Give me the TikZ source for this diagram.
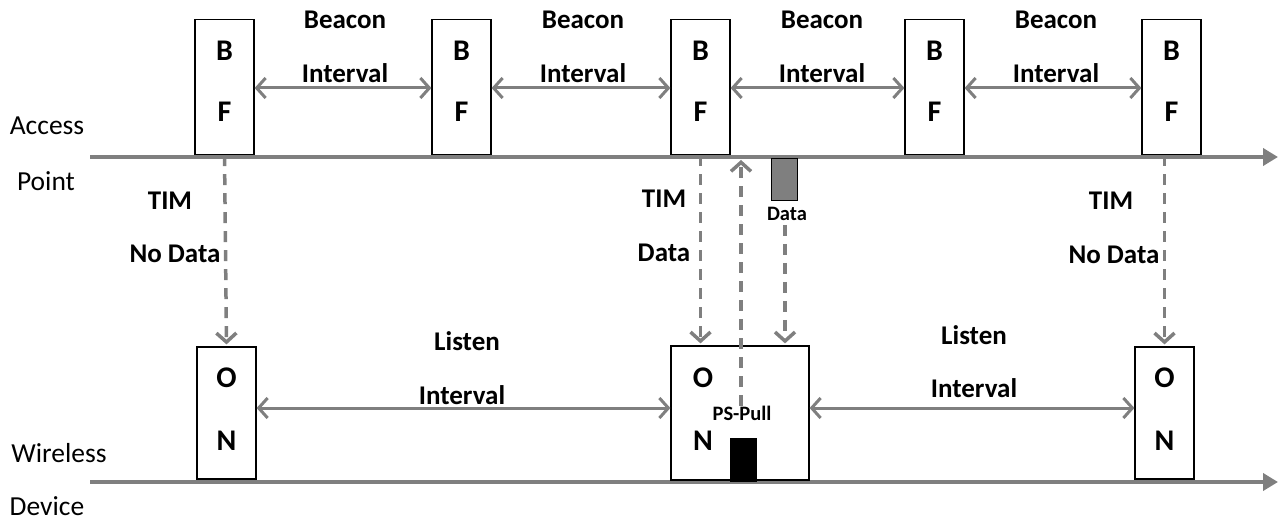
\documentclass[tikz,border=0pt]{standalone}
\usepackage{fontspec}
\setmainfont{Carlito}
\usetikzlibrary{arrows.meta}
\definecolor{ln}{HTML}{7F7F7F}
\tikzset{
  box/.style={draw=black,line width=1.2pt,fill=white,inner sep=0pt,minimum width=59pt,minimum height=135pt},
  lt/.style={font=\fontsize{30}{30}\selectfont\bfseries,inner sep=0pt},
  lbl/.style={font=\fontsize{27}{27}\selectfont\bfseries,inner sep=0pt},
  side/.style={font=\fontsize{27.5}{27.5}\selectfont,inner sep=0pt},
  small/.style={font=\fontsize{20.5}{20.5}\selectfont\bfseries,inner sep=0pt},
  axis/.style={draw=ln,line width=4pt,-{Triangle[length=15pt,width=17pt]}},
  dbl/.style={draw=ln,line width=3pt,{Straight Barb[length=9pt,width=20pt]}-{Straight Barb[length=9pt,width=20pt]}},
  dsh/.style={draw=ln,line width=3.5pt,dash pattern=on 11pt off 8pt,-{Straight Barb[length=9pt,width=20pt]}}
}
\begin{document}
\begin{tikzpicture}[x=1pt,y=-1pt]
\useasboundingbox (0,0) rectangle (1281,521);
% axes
\coordinate (apL) at (90,157);
\coordinate (apR) at (1278,157);
\coordinate (wdL) at (90,482);
\coordinate (wdR) at (1278,482);
\draw[axis] (apL) -- (apR);
\draw[axis] (wdL) -- (wdR);
% side labels
\node[side] (acc) at (47,126) {Access};
\node[side] (pt) at (46,181) {Point};
\node[side] (wl) at (59,453) {Wireless};
\node[side] (dev) at (47,506) {Device};
% BF boxes
\foreach \i/\x in {1/224.5,2/461.5,3/700.5,4/934.5,5/1171.5}{
  \node[box] (bf\i) at (\x,87) {};
  \node[lt] (bfB\i) at (\x,51) {B};
  \node[lt] (bfF\i) at (\x,112) {F};
}
% ON boxes
\node[box,minimum height=132pt] (on1) at (226.5,413) {};
\node[lt] (onO1) at (226.5,378) {O};
\node[lt] (onN1) at (226.5,441) {N};
\node[box,minimum width=138pt,minimum height=134pt] (on2) at (740,413) {};
\node[lt] (onO2) at (703,378) {O};
\node[lt] (onN2) at (703,441) {N};
\node[box,minimum height=132pt] (on3) at (1164.5,413) {};
\node[lt] (onO3) at (1164.5,378) {O};
\node[lt] (onN3) at (1164.5,441) {N};
% beacon intervals
\foreach \a/\b/\x in {1/2/345,2/3/583,3/4/822,4/5/1056}{
  \draw[dbl] ([yshift=-1pt]bf\a.east) -- ([yshift=-1pt]bf\b.west);
  \node[lbl] (bc\a) at (\x,20) {Beacon};
  \node[lbl] (iv\a) at (\x,73) {Interval};
}
% listen intervals
\draw[dbl] ([yshift=5pt]on1.east) -- ([yshift=5pt]on2.west);
\draw[dbl] ([yshift=5pt]on2.east) -- ([yshift=5pt]on3.west);
\node[lbl] (ls1) at (467,341) {Listen};
\node[lbl] (li1) at (462,395) {Interval};
\node[lbl] (ls2) at (974,335) {Listen};
\node[lbl] (li2) at (974,388) {Interval};
% TIM
\draw[dsh] (bf1.south) -- ([yshift=2pt]on1.north);
\node[lbl] (tim1) at (170,201) {TIM};
\node[lbl] (nd1) at (175,254) {No Data};
\draw[dsh] (bf3.south) -- ([yshift=2pt]bf3.south |- on2.north);
\node[lbl] (tim2) at (664,199) {TIM};
\node[lbl] (dt2) at (664,253) {Data};
\draw[dsh] (on3.north |- bf5.south) -- ([yshift=2pt]on3.north);
\node[lbl] (tim3) at (1111,201) {TIM};
\node[lbl] (nd3) at (1114,255) {No Data};
% data frame
\node[draw=black,line width=1pt,fill=ln,minimum width=26pt,minimum height=42pt,inner sep=0pt] (dfr) at (784,180) {};
\node[small] (dlab) at (787,214) {Data};
\draw[dsh] ([yshift=-4pt]dlab.south -| 785,0) -- ([yshift=2pt]on2.north -| 785,0);
% PS-Pull
\node[small] (ps) at (742,413) {PS-Pull};
\coordinate (pstop) at (741,160);
\draw[dsh] (ps.north -| pstop) -- (pstop);
\node[fill=black,minimum width=27pt,minimum height=44pt,inner sep=0pt] (blk) at (743.5,460) {};
\end{tikzpicture}
\end{document}
